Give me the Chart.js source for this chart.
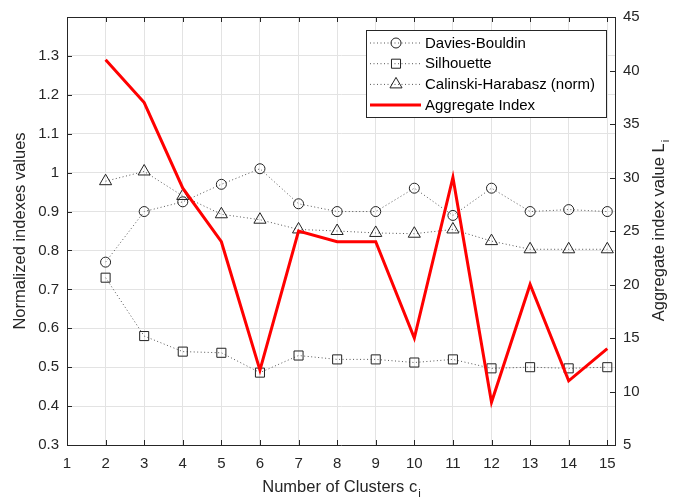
<!DOCTYPE html>
<html>
<head>
<meta charset="utf-8">
<script src="https://cdn.jsdelivr.net/npm/chart.js@4.4.1/dist/chart.umd.min.js"></script>
<style>
  html, body { margin: 0; padding: 0; background: #fff; }
  #wrap { width: 673px; height: 502px; }
</style>
</head>
<body>
<div id="wrap"><canvas id="chart" width="673" height="502"></canvas></div>
<script>
const clusters = [2, 3, 4, 5, 6, 7, 8, 9, 10, 11, 12, 13, 14, 15];
const daviesBouldin = [0.77, 0.9, 0.925, 0.97, 1.01, 0.92, 0.9, 0.9, 0.96, 0.89, 0.96, 0.9, 0.905, 0.9];
const silhouette = [0.73, 0.58, 0.54, 0.537, 0.486, 0.53, 0.52, 0.52, 0.512, 0.52, 0.497, 0.5, 0.497, 0.5];
const calinski = [0.978, 1.003, 0.94, 0.893, 0.879, 0.854, 0.85, 0.845, 0.843, 0.854, 0.824, 0.803, 0.803, 0.803];
const aggregate = [41, 37, 29, 24, 12, 25, 24, 24, 15, 30, 9, 20, 11, 14];

const xTicks = [1, 2, 3, 4, 5, 6, 7, 8, 9, 10, 11, 12, 13, 14, 15];
const leftTicks = [0.3, 0.4, 0.5, 0.6, 0.7, 0.8, 0.9, 1.0, 1.1, 1.2, 1.3];
const rightTicks = [5, 10, 15, 20, 25, 30, 35, 40, 45];

const seriesNames = ["Davies-Bouldin", "Silhouette", "Calinski-Harabasz (norm)", "Aggregate Index"];

const ink = "#262626";
const font = '"Liberation Sans", Arial, sans-serif';

function points(values) {
  return clusters.map((c, i) => ({ x: c, y: values[i] }));
}

function indexSeries(label, values, style, radius) {
  return {
    label,
    data: points(values),
    yAxisID: "yL",
    order: 1,
    borderColor: "#555",
    borderWidth: 1,
    borderDash: [1, 2.5],
    pointStyle: style,
    pointRadius: radius,
    pointBorderColor: "#222",
    pointBorderWidth: 1,
    pointBackgroundColor: "rgba(0,0,0,0)",
    tension: 0,
  };
}

const datasets = [
  indexSeries(seriesNames[0], daviesBouldin, "circle", 5),
  indexSeries(seriesNames[1], silhouette, "rect", 6.4),
  indexSeries(seriesNames[2], calinski, "triangle", 7),
  {
    label: seriesNames[3],
    data: points(aggregate),
    yAxisID: "yR",
    order: 0,
    borderColor: "#ff0000",
    borderWidth: 3,
    pointRadius: 0,
    tension: 0,
  },
];

function drawSubText(ctx, main, sub, x, y, size) {
  ctx.font = `${size}px ${font}`;
  const w1 = ctx.measureText(main).width;
  ctx.font = `${size * 0.7}px ${font}`;
  const w2 = ctx.measureText(sub).width;
  const start = x - (w1 + w2) / 2;
  ctx.textAlign = "left";
  ctx.textBaseline = "middle";
  ctx.font = `${size}px ${font}`;
  ctx.fillText(main, start, y);
  ctx.font = `${size * 0.7}px ${font}`;
  ctx.fillText(sub, start + w1 + 1, y + size * 0.4);
}

const frame = {
  id: "frame",
  afterDraw(chart) {
    const ctx = chart.ctx;
    const area = chart.chartArea;
    const xs = chart.scales.x;
    const yl = chart.scales.yL;
    const yr = chart.scales.yR;
    ctx.save();
    ctx.strokeStyle = ink;
    ctx.lineWidth = 1;
    ctx.beginPath();
    // box top
    ctx.moveTo(area.left, Math.round(area.top) + 0.5);
    ctx.lineTo(area.right, Math.round(area.top) + 0.5);
    // inward ticks
    xTicks.forEach((v) => {
      const px = Math.round(xs.getPixelForValue(v)) + 0.5;
      ctx.moveTo(px, area.bottom);
      ctx.lineTo(px, area.bottom - 5);
      ctx.moveTo(px, area.top);
      ctx.lineTo(px, area.top + 5);
    });
    leftTicks.forEach((v) => {
      const py = Math.round(yl.getPixelForValue(v)) + 0.5;
      ctx.moveTo(area.left, py);
      ctx.lineTo(area.left + 5, py);
    });
    rightTicks.forEach((v) => {
      const py = Math.round(yr.getPixelForValue(v)) + 0.5;
      ctx.moveTo(area.right, py);
      ctx.lineTo(area.right - 5, py);
    });
    ctx.stroke();

    // axis titles
    ctx.fillStyle = ink;
    const cy = (area.top + area.bottom) / 2;
    drawSubText(ctx, "Number of Clusters c", "i", (area.left + area.right) / 2, 487, 16.5);
    ctx.save();
    ctx.translate(20, cy);
    ctx.rotate(-Math.PI / 2);
    ctx.font = `16.5px ${font}`;
    ctx.textAlign = "center";
    ctx.textBaseline = "middle";
    ctx.fillText("Normalized indexes values", 0, 0);
    ctx.restore();
    ctx.save();
    ctx.translate(659, cy);
    ctx.rotate(-Math.PI / 2);
    drawSubText(ctx, "Aggregate index value L", "i", 0, 0, 16.5);
    ctx.restore();

    // legend
    const lx = 366, ly = 30, lw = 240, lh = 87;
    ctx.fillStyle = "#fff";
    ctx.fillRect(lx, ly, lw, lh);
    ctx.strokeStyle = ink;
    ctx.strokeRect(lx + 0.5, ly + 0.5, lw, lh);
    chart.data.datasets.forEach((ds, i) => {
      const rowY = 43 + i * 20.7;
      ctx.save();
      ctx.strokeStyle = ds.borderColor;
      ctx.lineWidth = ds.borderWidth;
      ctx.setLineDash(ds.borderDash || []);
      ctx.beginPath();
      ctx.moveTo(370, rowY);
      ctx.lineTo(421, rowY);
      ctx.stroke();
      ctx.restore();
      if (ds.pointRadius > 0) {
        ctx.save();
        ctx.strokeStyle = ds.pointBorderColor;
        ctx.fillStyle = "rgba(0,0,0,0)";
        ctx.lineWidth = 1;
        Chart.helpers.drawPoint(ctx, { pointStyle: ds.pointStyle, radius: ds.pointRadius, rotation: 0, borderWidth: 1 }, 396, rowY);
        ctx.restore();
      }
      ctx.fillStyle = "#000";
      ctx.font = `15px ${font}`;
      ctx.textAlign = "left";
      ctx.textBaseline = "middle";
      ctx.fillText(ds.label, 425, rowY + 0.5);
    });
    ctx.restore();
  },
};

const tickFont = { family: font, size: 15 };

new Chart(document.getElementById("chart"), {
  type: "line",
  data: { datasets },
  options: {
    responsive: false,
    animation: false,
    devicePixelRatio: 1,
    layout: { padding: { top: 16, left: 0, right: 0, bottom: 0 } },
    plugins: { legend: { display: false }, tooltip: { enabled: false } },
    scales: {
      x: {
        type: "linear",
        min: 1,
        max: 15.2,
        afterBuildTicks: (scale) => { scale.ticks = xTicks.map((v) => ({ value: v })); },
        afterFit: (scale) => { scale.height = 57; },
        ticks: { font: tickFont, color: ink, padding: 10, maxRotation: 0, autoSkip: false },
        grid: { color: "#e3e3e3", drawTicks: false },
        border: { color: ink },
      },
      yL: {
        position: "left",
        min: 0.3,
        max: 1.4,
        afterBuildTicks: (scale) => { scale.ticks = leftTicks.map((v) => ({ value: v })); },
        afterFit: (scale) => { scale.width = 67; },
        ticks: { font: tickFont, color: ink, padding: 8, callback: (v) => String(Number(v.toFixed(1))) },
        grid: { color: "#e3e3e3", drawTicks: false },
        border: { color: ink },
      },
      yR: {
        position: "right",
        min: 5,
        max: 45,
        afterBuildTicks: (scale) => { scale.ticks = rightTicks.map((v) => ({ value: v })); },
        afterFit: (scale) => { scale.width = 58; },
        ticks: { font: tickFont, color: ink, padding: 8 },
        grid: { display: false, drawTicks: false },
        border: { color: ink },
      },
    },
  },
  plugins: [frame],
});
</script>
</body>
</html>
